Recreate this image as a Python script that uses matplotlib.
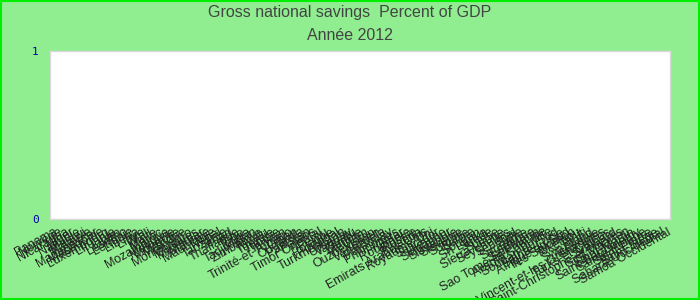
import matplotlib
matplotlib.use("Agg")
import matplotlib.pyplot as plt
import matplotlib.patches as patches

# country labels along the x axis, in the order shown
countries = [
    "Panama", "Norvège", "Nicaragua", "Niger", "Namibie", "Malawi", "Malaisie",
    "Madagascar", "Macédoine", "Luxembourg", "Lituanie", "Liban", "Lesotho",
    "Lettonie", "Libéria", "Libye", "Mali", "Malte", "Maroc", "Mozambique",
    "Moldavie", "Mongolie", "Mexique", "Montenegro", "Maldives", "Myanmar",
    "Maurice", "Mauritanie", "Népal", "Tanzanie", "Tchad", "Thaïlande", "Togo",
    "Tonga", "Tadjikistan", "Zimbabwe", "Tuvalu", "Turquie", "Tunisie", "Taïwan",
    "Trinité-et-Tobago", "Oman", "Ouganda", "Pakistan", "Palaos",
    "Timor Oriental", "Pérou", "Pologne", "Portugal", "Turkménistan", "Uruguay",
    "Vanuatu", "Zambie", "Vietnam", "Ouzbékistan", "Yémen", "Vénézuela",
    "Paraguay", "Philippines", "Qatar", "Roumanie", "Russie", "Rwanda",
    "Emirats Arabes Unis", "Royaume-Uni", "Salvador", "Ukraine", "Singapour",
    "Slovaquie", "Slovénie", "Somalie", "Serbie", "Soudan", "Sri Lanka", "Suède",
    "Suisse", "Sierra Leone", "Seychelles", "Sénégal", "Syrie", "Suriname",
    "Espagne", "San Marin", "Sao Tomé-et-Principe", "Arabie Saoudite",
    "Soudan du Sud", "Sainte-Lucie", "Afrique du Sud", "Îles Salomon",
    "Tokélaou", "Tahiti", "Swaziland", "Tchéquie",
    "Saint-Vincent-et-les Grenadines", "Turks-et-Caïcos", "Svalbard",
    "Saint-Christophe-et-Niévès", "Sint Maarten", "Saint-Martin",
    "Saint-Barthélemy", "Sainte-Hélène", "Saint-Pierre", "Saint-Siège",
    "Sahara Occidental", "Samoa Occidental",
]

# no values are drawn in the chart for 2012
savings = [
    0, 0, 0, 0, 0, 0, 0, 0, 0, 0, 0, 0, 0, 0, 0, 0, 0, 0, 0, 0, 0,
    0, 0, 0, 0, 0, 0, 0, 0, 0, 0, 0, 0, 0, 0, 0, 0, 0, 0, 0, 0, 0,
    0, 0, 0, 0, 0, 0, 0, 0, 0, 0, 0, 0, 0, 0, 0, 0, 0, 0, 0, 0, 0,
    0, 0, 0, 0, 0, 0, 0, 0, 0, 0, 0, 0, 0, 0, 0, 0, 0, 0, 0, 0, 0,
    0, 0, 0, 0, 0, 0, 0, 0, 0, 0, 0, 0, 0, 0, 0, 0, 0, 0, 0, 0, 0,
]

y_ticks = [0, 1]

plt.rcParams["font.family"] = ["Liberation Sans", "DejaVu Sans"]

fig = plt.figure(figsize=(7, 3), dpi=100, facecolor="#90ee90")
ax = fig.add_axes([50 / 700, 81 / 300, 620 / 700, 168 / 300])
ax.set_facecolor("white")

x = range(len(countries))
ax.bar(x, savings, width=0.8, color="#4f81bd", linewidth=0)

ax.set_xlim(-0.5, len(countries) - 0.5)
ax.set_ylim(0, 1)
ax.set_yticks(y_ticks)
ax.set_yticklabels([str(v) for v in y_ticks], color="#0000aa",
                   family="DejaVu Sans Mono", fontsize=8)
ax.set_xticks(list(x))
ax.set_xticklabels(countries, rotation=29, ha="right", rotation_mode="anchor",
                   fontsize=9, color="#222222")
ax.tick_params(axis="both", length=0)
ax.tick_params(axis="y", pad=8)
ax.tick_params(axis="x", pad=5)

for s in ax.spines.values():
    s.set_color("#d8d8d8")
    s.set_linewidth(1)

# titles
fig.text(0.5, 1 - 13 / 300, "Gross national savings  Percent of GDP",
         ha="center", va="center", fontsize=11.5, color="#444444")
fig.text(0.5, 1 - 36 / 300, "Année 2012",
         ha="center", va="center", fontsize=11.5, color="#444444")

# green frame round the figure
fig.patches.append(patches.Rectangle((0.001, 0.002), 0.997, 0.995,
                                     transform=fig.transFigure, fill=False,
                                     edgecolor="#00ee00", linewidth=1.5))

fig.savefig("out.png", dpi=100, facecolor=fig.get_facecolor())
